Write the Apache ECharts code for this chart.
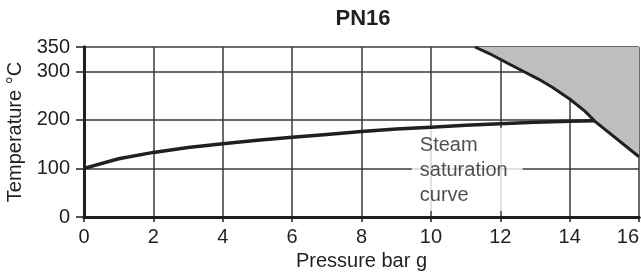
<!DOCTYPE html>
<html>
<head>
<meta charset="utf-8">
<script src="https://cdn.jsdelivr.net/npm/echarts@6/dist/echarts.min.js"></script>
<style>
  html, body { margin: 0; padding: 0; background: #fff; }
  #chart { width: 641px; height: 275px; }
</style>
</head>
<body>
<div id="chart"></div>
<script>
// saturation curve, bar g -> °C
const satPressure = [0, 1, 2, 3, 4, 5, 6, 7, 8, 9, 10, 11, 12, 13, 14, 14.73];
const satTemp = [100, 120, 133, 143, 151, 158, 164, 170, 176, 181, 185, 189, 192, 195, 197, 198];

// upper limit of PN16 (grey area lies above it)
const limitPressure = [11.27, 11.7, 12.2, 12.66, 13.1, 13.5, 14, 14.44, 14.73, 16];
const limitTemp = [350, 336, 317, 300, 284, 267, 243, 218, 197, 124];

const xTicks = {min: 0, max: 16, step: 2};
const yTicks = {min: 0, max: 350, step: 100};

const labelText = 'Steam\nsaturation\ncurve';
const labelAt = [9.45, 183];

const ink = '#231f20';

let chart = echarts.init(document.getElementById('chart'));
chart.setOption({
  animation: false,
  title: {
    text: 'PN16',
    left: 363,
    top: 8,
    padding: 0,
    textAlign: 'center',
    textStyle: {fontFamily: 'Liberation Sans', fontSize: 22, fontWeight: 'bold', color: ink}
  },
  grid: {left: 84, right: 2, top: 47, bottom: 58, outerBoundsMode: 'none'},
  xAxis: [
    {
      type: 'value',
      min: xTicks.min, max: xTicks.max, interval: xTicks.step,
      name: 'Pressure bar g',
      nameLocation: 'middle',
      nameGap: 33,
      nameTextStyle: {fontFamily: 'Liberation Sans', fontSize: 20, color: ink},
      axisLine: {lineStyle: {color: ink, width: 3}},
      axisTick: {length: 5, lineStyle: {color: ink, width: 1.5}},
      axisLabel: {margin: 10, fontFamily: 'Liberation Sans', fontSize: 20, color: ink, alignMaxLabel: 'right'},
      splitLine: {lineStyle: {color: '#3a3a3a', width: 1.5}}
    },
    {
      type: 'value', position: 'top', z: 5,
      min: xTicks.min, max: xTicks.max,
      axisLine: {show: true, lineStyle: {color: ink, width: 3}},
      axisTick: {show: false}, axisLabel: {show: false}, splitLine: {show: false}
    }
  ],
  yAxis: [
    {
      type: 'value',
      min: yTicks.min, max: yTicks.max, interval: yTicks.step,
      name: 'Temperature °C',
      nameLocation: 'middle',
      nameGap: 55,
      nameTextStyle: {fontFamily: 'Liberation Sans', fontSize: 20, color: ink},
      axisLine: {show: true, lineStyle: {color: ink, width: 3}},
      axisTick: {show: true, length: 8, lineStyle: {color: ink, width: 1.5}},
      axisLabel: {margin: 14, fontFamily: 'Liberation Sans', fontSize: 20, color: ink},
      splitLine: {lineStyle: {color: '#3a3a3a', width: 1.5}}
    },
    {
      type: 'value', position: 'right', z: 5,
      min: yTicks.min, max: yTicks.max,
      axisLine: {show: true, lineStyle: {color: ink, width: 3}},
      axisTick: {show: false}, axisLabel: {show: false}, splitLine: {show: false}
    }
  ],
  series: [
    {
      name: 'label',
      type: 'scatter',
      z: 2,
      silent: true,
      symbolSize: 0,
      data: [labelAt],
      label: {
        show: true,
        position: [0, 0],
        formatter: labelText,
        fontFamily: 'Liberation Sans',
        fontSize: 20,
        lineHeight: 25,
        color: ink,
        backgroundColor: '#fff',
        padding: [5, 15, 3, 8]
      }
    },
    {
      name: 'limit',
      type: 'line',
      z: 3,
      showSymbol: false,
      data: limitPressure.map((p, i) => [p, limitTemp[i]]),
      lineStyle: {color: ink, width: 3, join: 'round'},
      areaStyle: {origin: 'end', color: '#bcbec0', opacity: 1}
    },
    {
      name: 'saturation',
      type: 'line',
      z: 4,
      showSymbol: false,
      data: satPressure.map((p, i) => [p, satTemp[i]]),
      lineStyle: {color: ink, width: 3.5, join: 'round'}
    }
  ]
});
</script>
</body>
</html>
